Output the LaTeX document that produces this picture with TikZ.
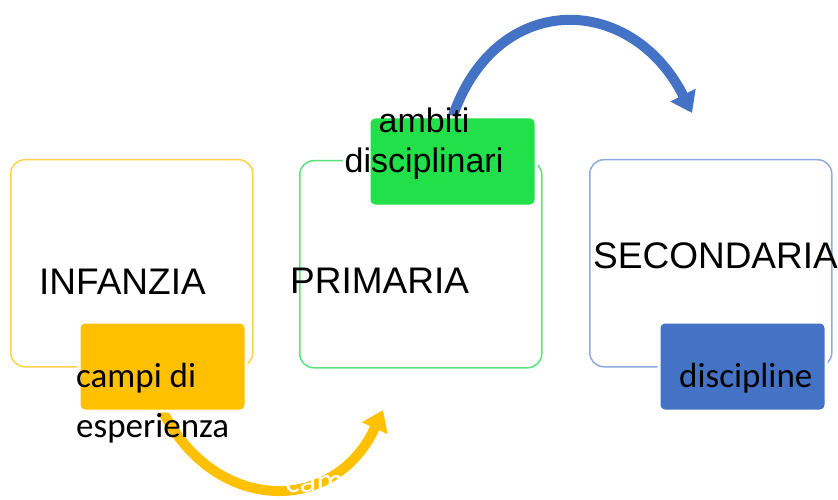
\documentclass[tikz,border=0pt]{standalone}
\usepackage{fontspec}
\setmainfont{Liberation Sans}
\newfontfamily\calib{Carlito}
\usetikzlibrary{arrows.meta}
\definecolor{yel}{HTML}{FFC000}
\definecolor{yelline}{HTML}{FFD24D}
\definecolor{grnfill}{HTML}{22E04A}
\definecolor{grnline}{HTML}{5BE27A}
\definecolor{bluefill}{HTML}{4472C4}
\definecolor{blueline}{HTML}{8FAADC}
\begin{document}
\begin{tikzpicture}[x=1pt,y=-1pt,
  frame/.style={draw, line width=1.5pt, rounded corners=14pt, inner sep=0pt, anchor=north west, minimum width=242pt, minimum height=207pt},
  tab/.style={draw=white, line width=3pt, rounded corners=6pt, inner sep=0pt, anchor=north west, minimum width=167pt, minimum height=89pt},
  big/.style={font=\fontsize{37}{44}\selectfont, inner sep=0pt, anchor=base west},
  small/.style={font=\calib\fontsize{35}{50}\selectfont, inner sep=0pt, align=left, anchor=base west},
  bendarrow/.style={line width=10pt, -{Triangle[length=20pt,width=27pt]}}
]
\useasboundingbox (0,0) rectangle (838,500);
\clip (0,0) rectangle (838,500);
% frames
\node[frame, draw=yelline] (inf) at (10,159) {};
\node[frame, draw=grnline] (prim) at (299,160) {};
\node[frame, draw=blueline] (sec) at (589,159) {};
% arrow end points
\coordinate (ya) at (162,410);
\coordinate (yb) at (383,410);
\coordinate (ba) at (450,125);
\coordinate (bb) at (692,113);
% arrows
\draw[bendarrow, yel] (ya) .. controls (215,515) and (335,515) .. (yb);
\draw[bendarrow, bluefill] (ba) .. controls (490,-10) and (630,-10) .. (bb);
% tabs
\node[tab, fill=yel] (ytab) at (77.5,320.5) {};
\node[tab, fill=grnfill] (gtab) at (367.5,115.5) {};
\node[tab, fill=bluefill] (btab) at (657.5,320.5) {};
\fill[white] (343,151) rectangle (366,170);
% texts
\node[big] (tinf) at (39,294) {INFANZIA};
\node[big] (tprim) at (290,293) {PRIMARIA};
\node[big] (tsec) at (593,268) {SECONDARIA};
\node[font=\fontsize{34}{40}\selectfont, inner sep=0pt, align=center, anchor=base] (tamb) at (424,172) {ambiti\\disciplinari};
\node[small] (tcampi) at (76,437) {campi di\\esperienza};
\node[small] (tdisc) at (679,387) {discipline};
\node[small, text=white] (thid) at (285,492) {campi};
\end{tikzpicture}
\end{document}
